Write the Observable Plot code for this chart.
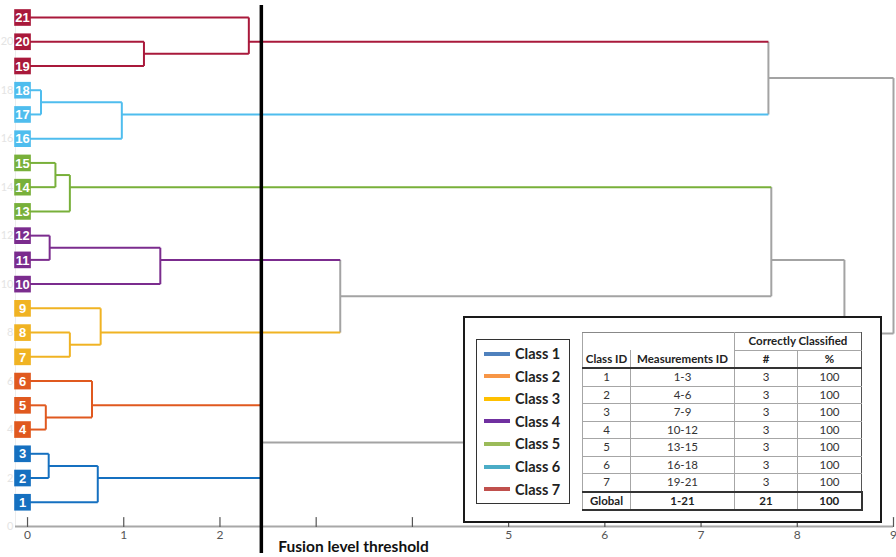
<!DOCTYPE html>
<html>
<head>
<meta charset="utf-8">
<script src="https://cdn.jsdelivr.net/npm/d3@7"></script>
<script src="https://cdn.jsdelivr.net/npm/@observablehq/plot@0.6"></script>
<style>
  html, body { margin: 0; padding: 0; background: #fff; }
  #wrap { position: relative; width: 896px; height: 557px; overflow: hidden; font-family: Lato, "Open Sans", sans-serif; }
  #box { position: absolute; left: 463px; top: 316px; width: 419px; height: 207px; box-sizing: border-box;
         border: 2px solid #1a1a1a; background: #fff; }
  #legend { position: absolute; left: 11px; top: 21px; width: 94px; height: 165px; box-sizing: border-box;
            border: 1.5px solid #333; background: #fff; }
  .li { position: absolute; left: 7px; height: 20px; display: flex; align-items: center; font-weight: bold; font-size: 14.5px; color: #222; }
  .li span.sw { display: inline-block; width: 26px; height: 4px; margin-right: 5px; }
  table { position: absolute; left: 117px; top: 14px; border-collapse: collapse; font-size: 11.5px; color: #333; }
  td { text-align: center; padding: 0; height: 16.5px; line-height: 16px; border: 1px solid #a6a6a6; }
  td.h { font-weight: bold; color: #222; }
</style>
</head>
<body>
<div id="wrap">
  <div id="chart"></div>
  <div id="box">
    <div id="legend"></div>
    <table id="tbl"></table>
  </div>
</div>
<script>
// ---------------- data ----------------
const leafIds   = d3.range(1, 22);
const leafClass = [1,1,1, 2,2,2, 3,3,3, 4,4,4, 5,5,5, 6,6,6, 7,7,7];
const classColors = {1:"#1570c0", 2:"#e0591f", 3:"#f0b323", 4:"#7b2c8e", 5:"#78b03a", 6:"#4fbdee", 7:"#a9193b", 0:"#a3a3a3"};

// internal nodes (ids 22..41): fusion level, outgoing y, children, class (0 = above threshold)
const nodeId    = [22,  23,  24,  25,  26,  27,  28,  29,  30,  31,  32,  33,  34,  35,  36,   37,  38,  39,  40,   41];
const nodeLevel = [0.22,0.73,0.19,0.67,0.44,0.76,0.23,1.38,0.29,0.44,0.14,0.98,1.21,2.30,2.43, 3.25,7.73,7.70,8.49, 9.0];
const nodeY     = [2.5, 2,   4.5, 5,   7.5, 8,   11.5,11,  14.5,14,  17.5,17,  19.5,20,  3.47, 9.5, 11,  18.5,7.96, 13];
const nodeLeft  = [2,   1,   4,   24,  7,   26,  11,  10,  14,  13,  17,  16,  19,  34,  23,   27,  37,  33,  36,   40];
const nodeRight = [3,   22,  5,   6,   8,   9,   12,  28,  15,  30,  18,  32,  20,  21,  25,   29,  31,  35,  38,   39];
const nodeClass = [1,   1,   2,   2,   3,   3,   4,   4,   5,   5,   6,   6,   7,   7,   0,    0,   0,   0,   0,    0];

const threshold = [2.43];
const thresholdLabel = "Fusion level threshold";
const xTicks = d3.range(0, 10);
const xTickLabels = ["0","1","2","","","5","6","7","8","9"];   // 3 and 4 hidden under the threshold label
const yTicks = d3.range(0, 21, 2);

const legendLabels = ["Class 1","Class 2","Class 3","Class 4","Class 5","Class 6","Class 7"];
const legendColors = ["#4f81bd","#f79646","#ffc000","#7030a0","#9bbb59","#4bacc6","#c0504d"];

const tblClassId = ["1","2","3","4","5","6","7"];
const tblMeasId  = ["1-3","4-6","7-9","10-12","13-15","16-18","19-21"];
const tblCount   = [3,3,3,3,3,3,3];
const tblPct     = [100,100,100,100,100,100,100];
const tblGlobal  = ["Global","1-21",21,100];

// ---------------- build tree segments ----------------
const info = new Map();
leafIds.forEach((id, i) => info.set(id, {level: 0, y: id, cls: leafClass[i]}));
nodeId.forEach((id, i) => info.set(id, {level: nodeLevel[i], y: nodeY[i], cls: nodeClass[i]}));

const segs = [];
nodeId.forEach((id, i) => {
  const a = info.get(nodeLeft[i]), b = info.get(nodeRight[i]);
  const h = nodeLevel[i];
  segs.push({x1: a.level, y1: a.y, x2: h, y2: a.y, c: classColors[a.cls], o: a.cls === 0 ? 0 : 1});
  segs.push({x1: b.level, y1: b.y, x2: h, y2: b.y, c: classColors[b.cls], o: b.cls === 0 ? 0 : 1});
  segs.push({x1: h, y1: a.y, x2: h, y2: b.y, c: classColors[nodeClass[i]], o: nodeClass[i] === 0 ? 0 : 1});
});
segs.sort((p, q) => p.o - q.o);

const leaves = leafIds.map((id, i) => ({id, cls: leafClass[i]}));

const tickShape = {draw(ctx, l) { ctx.moveTo(0, 0); ctx.lineTo(0, -l); }};

const chart = Plot.plot({
  width: 896,
  height: 557,
  marginLeft: 15,
  marginRight: 3,
  marginTop: 17,
  marginBottom: 31,
  style: {fontFamily: "Lato, 'Open Sans', sans-serif", background: "#fff"},
  x: {domain: [-0.125, 9], label: null},
  y: {domain: [0, 21], label: null},
  marks: [
    Plot.axisY({ticks: yTicks, tickSize: 0, tickPadding: 2, fontSize: 11, color: "#e4e4e4", label: null}),
    Plot.frame({anchor: "left", stroke: "#ececec"}),
    Plot.ruleY([0], {stroke: "#a8a8a8", strokeWidth: 2}),
    Plot.vector(xTicks, {x: d => d, y: 0, length: 9, anchor: "start", shape: tickShape, stroke: "#555", strokeWidth: 1.2}),
    Plot.axisX({ticks: xTicks, tickFormat: (d) => xTickLabels[xTicks.indexOf(d)], tickSize: 0, tickPadding: 4, fontSize: 12, color: "#555", label: null}),
    Plot.link(segs, {x1: "x1", y1: "y1", x2: "x2", y2: "y2", stroke: "c", strokeWidth: 2, strokeLinejoin: "miter"}),
    Plot.ruleX(threshold, {x: d => d, y1: -1.11, y2: 21.5, stroke: "#000", strokeWidth: 3.5}),
    Plot.text([thresholdLabel], {x: threshold[0], y: -0.83, dx: 17, text: d => d, textAnchor: "start",
      fontWeight: "bold", fontSize: 15.5, fill: "#111"}),
    Plot.dot(leaves, {x: 0, y: "id", dx: -5, symbol: "square", r: 9.4, fill: d => classColors[d.cls], stroke: "none"}),
    Plot.text(leaves, {x: 0, y: "id", dx: -5, dy: 0.5, text: d => String(d.id), fill: "#fff", fontWeight: "bold", fontSize: 13,
      fontFamily: "'Liberation Sans', Arial, sans-serif"})
  ]
});
document.getElementById("chart").appendChild(chart);

// ---------------- legend ----------------
const leg = document.getElementById("legend");
legendLabels.forEach((lab, i) => {
  const d = document.createElement("div");
  d.className = "li";
  d.style.top = (3.5 + i * 22.6) + "px";
  d.innerHTML = `<span class="sw" style="background:${legendColors[i]}"></span>${lab}`;
  leg.appendChild(d);
});

// ---------------- table ----------------
const dark = "2px solid #333";
const W = [47, 103, 62, 63];
let html = "";
html += `<tr><td colspan="2" style="border-bottom:hidden;border-left:1px solid #a6a6a6;border-top:1px solid #888;height:16px"></td>` +
        `<td class="h" colspan="2" style="border-left:1.5px solid #555;border-top:1px solid #888;border-right:1.5px solid #555">Correctly Classified</td></tr>`;
html += `<tr style="border-bottom:${dark}">` +
        `<td class="h" style="width:${W[0]}px;border-top:hidden">Class ID</td>` +
        `<td class="h" style="width:${W[1]}px;border-top:hidden">Measurements ID</td>` +
        `<td class="h" style="width:${W[2]}px;border-left:1.5px solid #555">#</td>` +
        `<td class="h" style="width:${W[3]}px;border-right:1.5px solid #555">%</td></tr>`;
tblClassId.forEach((c, i) => {
  html += `<tr><td>${c}</td><td>${tblMeasId[i]}</td><td style="border-left:1.5px solid #555">${tblCount[i]}</td><td style="border-right:1.5px solid #555">${tblPct[i]}</td></tr>`;
});
html += `<tr style="border-top:${dark};border-bottom:${dark}">` +
        tblGlobal.map((v, j) => `<td class="h" style="${j === 2 ? "border-left:1.5px solid #555;" : ""}${j === 3 ? "border-right:2px solid #333;" : ""}">${v}</td>`).join("") +
        `</tr>`;
document.getElementById("tbl").innerHTML = html;
</script>
</body>
</html>
